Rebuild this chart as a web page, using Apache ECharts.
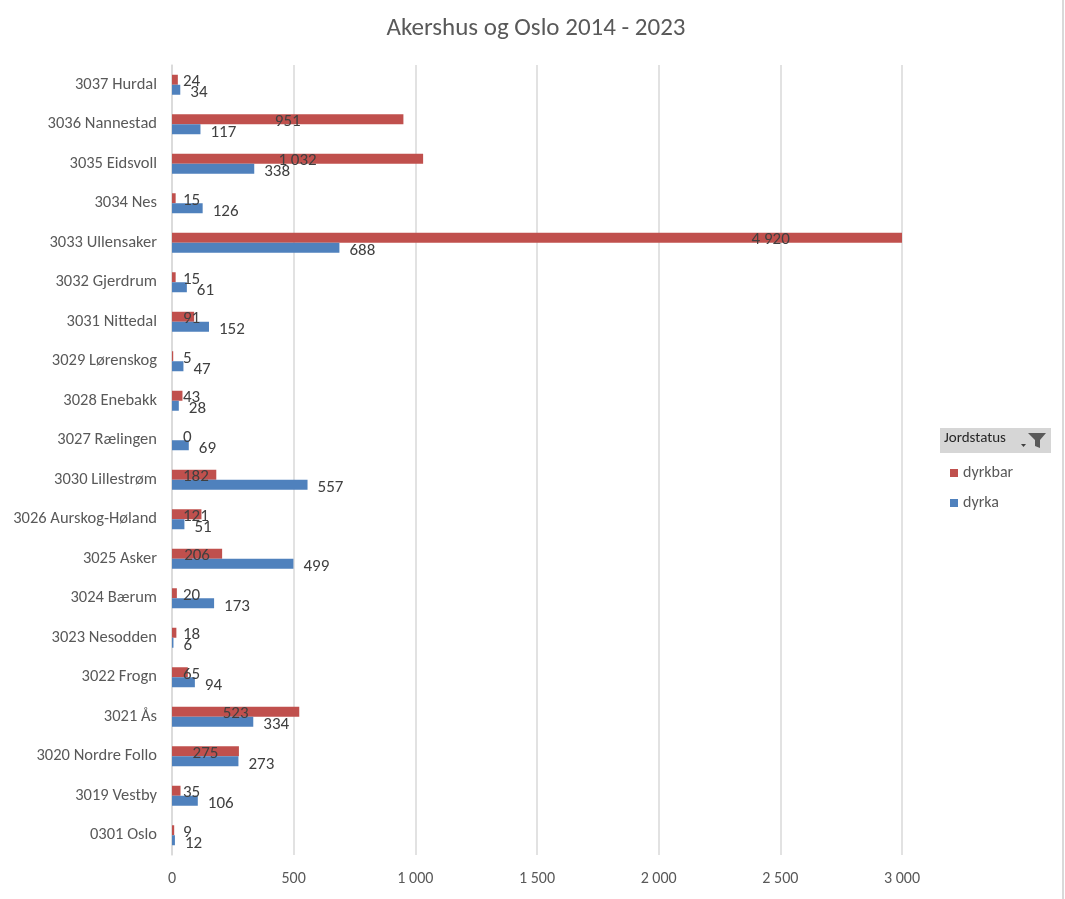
<!DOCTYPE html>
<html>
<head>
<meta charset="utf-8">
<title>Akershus og Oslo 2014 - 2023</title>
<script src="https://cdn.jsdelivr.net/npm/echarts@6/dist/echarts.min.js"></script>
<style>
  html, body {margin: 0; padding: 0; background: #fff;}
  #chart {width: 1065px; height: 899px;}
</style>
</head>
<body>
<div id="chart"></div>
<script>
// kommuner, nederst til øverst
var kommuner = [
  '0301 Oslo', '3019 Vestby', '3020 Nordre Follo', '3021 Ås', '3022 Frogn',
  '3023 Nesodden', '3024 Bærum', '3025 Asker', '3026 Aurskog-Høland', '3030 Lillestrøm',
  '3027 Rælingen', '3028 Enebakk', '3029 Lørenskog', '3031 Nittedal', '3032 Gjerdrum',
  '3033 Ullensaker', '3034 Nes', '3035 Eidsvoll', '3036 Nannestad', '3037 Hurdal'
];
var dyrkbar = [9, 35, 275, 523, 65, 18, 20, 206, 121, 182, 0, 43, 5, 91, 15, 4920, 15, 1032, 951, 24];
var dyrka = [12, 106, 273, 334, 94, 6, 173, 499, 51, 557, 69, 28, 47, 152, 61, 688, 126, 338, 117, 34];

var xMin = 0, xMax = 3000, xStep = 500;

var font = "Calibri, Carlito, Lato, 'Liberation Sans', sans-serif";

function fmt(v) {
  return String(v).replace(/\B(?=(\d{3})+(?!\d))/g, ' ');
}

var chart = echarts.init(document.getElementById('chart'));

chart.setOption({
  animation: false,
  textStyle: {fontFamily: font},
  title: {
    text: 'Akershus og Oslo 2014 - 2023',
    left: 531,
    top: 11,
    textAlign: 'center',
    textStyle: {fontFamily: font, fontSize: 25, fontWeight: 'normal', color: '#595959'}
  },
  grid: {left: 172, right: 163, top: 65, bottom: 44, containLabel: false},
  legend: {
    data: ['dyrkbar', 'dyrka'],
    orient: 'vertical',
    left: 945,
    top: 460,
    icon: 'rect',
    itemWidth: 8,
    itemHeight: 8,
    itemGap: 14,
    textStyle: {fontFamily: font, fontSize: 16, color: '#595959'}
  },
  xAxis: {
    type: 'value',
    min: xMin,
    max: xMax,
    interval: xStep,
    axisLine: {show: false},
    axisTick: {show: false},
    splitLine: {lineStyle: {color: '#d9d9d9', width: 1.5}},
    axisLabel: {
      fontFamily: font, fontSize: 16, color: '#595959', margin: 16,
      formatter: fmt
    }
  },
  yAxis: {
    type: 'category',
    data: kommuner,
    axisLine: {show: true, lineStyle: {color: '#d9d9d9', width: 1.5}},
    axisTick: {show: false},
    axisLabel: {fontFamily: font, fontSize: 16.5, color: '#595959', margin: 15}
  },
  series: [
    {
      name: 'dyrkbar',
      type: 'bar',
      data: dyrkbar,
      barWidth: 10,
      barGap: '0%',
      clip: true,
      itemStyle: {color: '#c0504d'},
      label: {
        show: true,
        position: 'inside',
        fontFamily: font, fontSize: 17, color: '#404040',
        formatter: function (p) { return fmt(p.value); }
      },
      // Excel legger etiketten midt på den ukuttede søylen, men aldri helt inntil aksen
      labelLayout: function (p) {
        var v = dyrkbar[p.dataIndex];
        var x0 = chart.convertToPixel({gridIndex: 0}, [0, 0]);
        var xm = chart.convertToPixel({gridIndex: 0}, [v / 2, 0]);
        if (!x0 || !xm) return {};
        var cx = Math.max(xm[0], x0[0] + 11 + p.labelRect.width / 2);
        return {
          x: cx,
          y: p.rect.y + p.rect.height / 2 + 2,
          align: 'center',
          verticalAlign: 'middle'
        };
      }
    },
    {
      name: 'dyrka',
      type: 'bar',
      data: dyrka,
      barWidth: 10,
      barGap: '0%',
      itemStyle: {color: '#4f81bd'},
      label: {
        show: true,
        position: 'right',
        distance: 10,
        offset: [0, 3],
        fontFamily: font, fontSize: 17, color: '#404040',
        formatter: function (p) { return fmt(p.value); }
      }
    }
  ],
  graphic: [
    {
      type: 'line',
      shape: {x1: 1063, y1: 0, x2: 1063, y2: 899},
      style: {stroke: '#d9d9d9', lineWidth: 2}
    },
    {
      type: 'rect',
      shape: {x: 940, y: 428, width: 111, height: 25},
      style: {fill: '#d6d6d6'}
    },
    {
      type: 'text',
      left: 944,
      top: 431,
      style: {text: 'Jordstatus', font: '15px ' + font, fill: '#262626'}
    },
    {
      type: 'polygon',
      shape: {points: [[1028, 433], [1046, 433], [1040, 440], [1040, 448], [1035, 446], [1035, 440]]},
      style: {fill: '#595959'}
    },
    {
      type: 'polygon',
      shape: {points: [[1021, 444], [1026, 444], [1023.5, 447]]},
      style: {fill: '#404040'}
    }
  ]
});
</script>
</body>
</html>
